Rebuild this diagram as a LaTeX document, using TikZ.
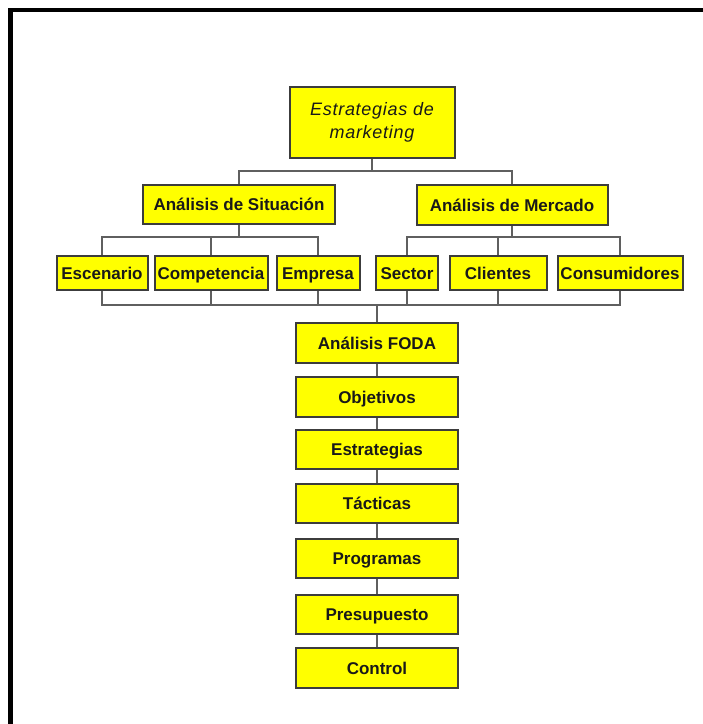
\documentclass[tikz,border=0pt]{standalone}
\usepackage{fontspec}
\setmainfont{Liberation Sans}
\newfontfamily\handfont[LetterSpace=4]{Liberation Sans}
\usepackage{xcolor}
\usepackage{tikz}
\definecolor{boxyellow}{RGB}{255,255,0}
\definecolor{boxedge}{RGB}{60,60,60}
\definecolor{linkgray}{RGB}{95,95,95}
\newcommand{\elbow}[3]{
\draw[link] (#1.south) -- (#1.south |- #3) -| (#2.north);
}

\begin{document}
\begin{tikzpicture}[x=1pt,y=-1pt,
box/.style={draw=boxedge,fill=boxyellow,line width=2pt,inner sep=0pt,
  text height=12pt,text depth=0pt,
  text=black!90,font=\fontsize{17}{20}\selectfont\bfseries},
link/.style={draw=linkgray,line width=2pt}]
\useasboundingbox (0,0) rectangle (703,724);
\draw[line width=4.5pt] (10.5,724) -- (10.5,10) -- (703,10);
\coordinate (bar1) at (0, 171);
\coordinate (bar2) at (0, 237);
\coordinate (bar3) at (0, 305);
\node[box,text height=,text depth=,font=\handfont\fontsize{18}{23}\selectfont\itshape,align=center,
  minimum width=165,minimum height=71] at (372, 122) (vmkt) {Estrategias de\\marketing};
\node[box,minimum width=192,minimum height=39] at (239, 204) (vsit) {Análisis de Situación};
\node[box,minimum width=191,minimum height=40] at (512, 205) (vmer) {Análisis de Mercado};
\node[box,minimum width=91,minimum height=34] at (102, 273) (vesc) {Escenario};
\node[box,minimum width=113,minimum height=34] at (211, 273) (vcom) {Competencia};
\node[box,minimum width=83,minimum height=34] at (318, 273) (vemp) {Empresa};
\node[box,minimum width=62,minimum height=34] at (407, 273) (vsec) {Sector};
\node[box,minimum width=97,minimum height=34] at (498, 273) (vcli) {Clientes};
\node[box,minimum width=125,minimum height=34] at (620, 273) (vcon) {Consumidores};
\node[box,minimum width=162,minimum height=40] at (377, 343) (vfoda) {Análisis FODA};
\node[box,minimum width=162,minimum height=40] at (377, 397) (vobj) {Objetivos};
\node[box,minimum width=162,minimum height=39] at (377, 449) (vest) {Estrategias};
\node[box,minimum width=162,minimum height=39] at (377, 503) (vtac) {Tácticas};
\node[box,minimum width=162,minimum height=39] at (377, 558) (vprog) {Programas};
\node[box,minimum width=162,minimum height=39] at (377, 614) (vpres) {Presupuesto};
\node[box,minimum width=162,minimum height=40] at (377, 668) (vctrl) {Control};
\elbow{vmkt}{vsit}{bar1}
\elbow{vmkt}{vmer}{bar1}
\elbow{vsit}{vesc}{bar2}
\elbow{vsit}{vcom}{bar2}
\elbow{vsit}{vemp}{bar2}
\elbow{vmer}{vsec}{bar2}
\elbow{vmer}{vcli}{bar2}
\elbow{vmer}{vcon}{bar2}
\elbow{vesc}{vfoda}{bar3}
\elbow{vcom}{vfoda}{bar3}
\elbow{vemp}{vfoda}{bar3}
\elbow{vsec}{vfoda}{bar3}
\elbow{vcli}{vfoda}{bar3}
\elbow{vcon}{vfoda}{bar3}
\draw[link] (vfoda) -- (vobj);
\draw[link] (vobj) -- (vest);
\draw[link] (vest) -- (vtac);
\draw[link] (vtac) -- (vprog);
\draw[link] (vprog) -- (vpres);
\draw[link] (vpres) -- (vctrl);
\end{tikzpicture}
\end{document}
